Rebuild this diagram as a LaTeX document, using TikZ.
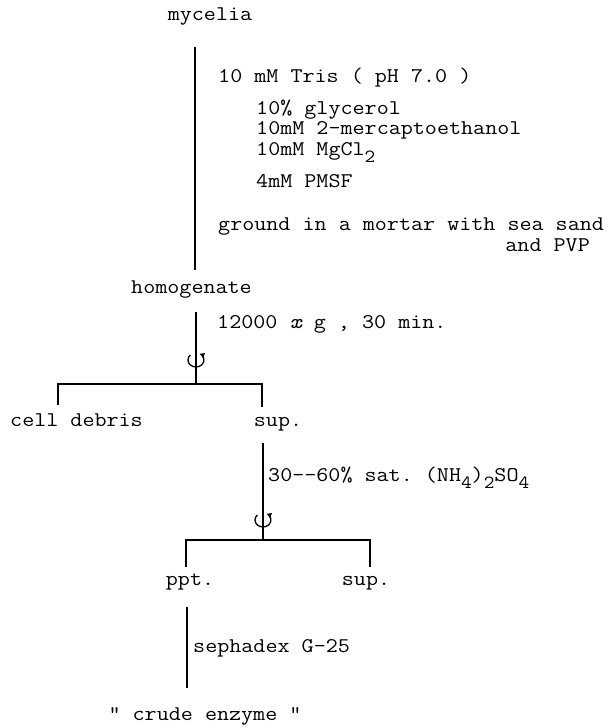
\documentclass[tikz,border=0pt]{standalone}
\usepackage{fontspec}
\setmonofont[FakeStretch=1.12]{Latin Modern Mono}
\usepackage{tikz}
\usetikzlibrary{positioning, arrows.meta, calc}
\tikzset{
  paso/.style={font=\fontsize{20.9}{24}\selectfont\ttfamily, inner sep=0pt, text height=0.55em, text depth=0.14em},
  linea/.style={line width=1.3pt},
  giro/.style={line width=1.3pt, -{Latex[length=5pt,width=6pt]}}
}
\newcommand{\lowsub}[1]{\raisebox{-0.8ex}{\fontsize{18.5}{20}\selectfont #1}}
\newcommand{\centrifuga}[1]{
    \draw[giro] ($(#1)+(135:8pt and 7pt)$) arc[start angle=135, end angle=425, x radius=8pt, y radius=7pt];
}

\begin{document}
\begin{tikzpicture}[x=1pt, y=-1pt]
            \useasboundingbox (0,0) rectangle (615,728);

            % 1. Micelio y tampon de extraccion
            \node[paso] (mic) at (210,18) {mycelia};
            \coordinate (l1a) at (195,47);
            \coordinate (l1b) at (195,270);
            \draw[linea] (l1a) -- (l1b);

            \node[paso, anchor=west] (tris) at (218,80) {10 mM Tris ( pH 7.0 )};
            \node[paso, anchor=west] (gli) at (256,112) {10\% glycerol};
            \node[paso, anchor=west] (mer) at (256,132) {10mM 2-mercaptoethanol};
            \node[paso, anchor=west] (mg) at (256,153) {10mM MgCl\lowsub{2}};
            \node[paso, anchor=west] (pmsf) at (256,185) {4mM PMSF};
            \node[paso, anchor=west] (mort) at (218,228) {ground in a mortar with sea sand};
            \node[paso, anchor=east] (pvp) at (590,249) {and PVP};

            % 2. Homogeneizado y centrifugacion
            \node[paso] (hom) at (191.5,291) {homogenate};
            \coordinate (l2a) at (196,312);
            \coordinate (b1) at (196,384);
            \draw[linea] (l2a) -- (b1);
            \node[paso, anchor=west] (cen1) at (217,326) {12000 {\itshape x} g , 30 min.};
            \coordinate (g1) at (196,360);
            \centrifuga{g1}

            \coordinate (b1l) at (58,405);
            \coordinate (b1r) at (262,407);
            \draw[linea] (b1l) |- (b1) -| (b1r);
            \node[paso] (deb) at (76.5,424) {cell debris};
            \node[paso] (sup1) at (278,424) {sup.};

            % 3. Precipitacion con sulfato amonico
            \coordinate (l3a) at (263,443);
            \coordinate (b2) at (263,540);
            \draw[linea] (l3a) -- (b2);
            \node[paso, anchor=west] (sat) at (268,479) {30-{}-60\% sat. (NH\lowsub{4})\lowsub{2}SO\lowsub{4}};
            \coordinate (g2) at (263,520);
            \centrifuga{g2}

            \coordinate (b2l) at (186,567);
            \coordinate (b2r) at (370,567);
            \draw[linea] (b2l) |- (b2) -| (b2r);
            \node[paso] (ppt) at (190,583) {ppt.};
            \node[paso] (sup2) at (366,583) {sup.};

            % 4. Filtracion en gel
            \coordinate (l4a) at (187,607);
            \coordinate (l4b) at (187,688);
            \draw[linea] (l4a) -- (l4b);
            \node[paso, anchor=west] (sep) at (193,650) {sephadex G-25};
            \node[paso] (enz) at (205,718) {" crude enzyme "};

\end{tikzpicture}
\end{document}
